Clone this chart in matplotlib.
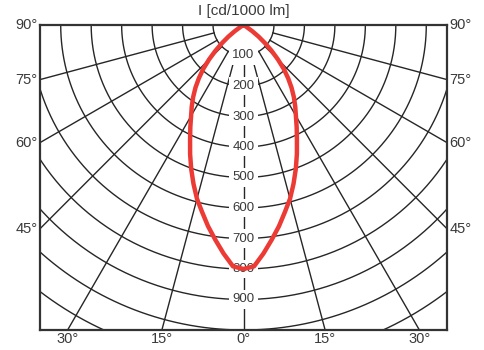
import matplotlib.pyplot as plt
import numpy as np

# light distribution (symmetric beam)
angles = [0, 2.5, 5, 7.5, 10, 12.5, 15, 17.5, 20, 22.5, 25, 27.5, 30, 32.5, 35,
          37.5, 40, 42.5, 45, 47.5, 50, 52.5, 55, 57.5, 60]
intensity = [800, 792, 752, 710, 670, 628, 590, 546, 502, 458, 415, 378, 344, 316, 288,
             259, 228, 196, 160, 125, 91, 62, 34, 12, 0]

rings = [100, 200, 300, 400, 500, 600, 700, 800, 900, 1000, 1100, 1200]
ring_labels = [100, 200, 300, 400, 500, 600, 700, 800, 900]
spokes = [-75, -60, -45, -30, -15, 0, 15, 30, 45, 60, 75]
side_labels = ["90°", "75°", "60°", "45°"]
side_angles = [90, 75, 60, 45]
bottom_labels = ["30°", "15°", "0°", "15°", "30°"]
bottom_angles = [-30, -15, 0, 15, 30]

XMAX = 668
YMIN = -1000
GRID = "#262626"
TXT = "#3a3a3a"

plt.rcParams['font.family'] = ['Liberation Sans', 'DejaVu Sans']

fig = plt.figure(figsize=(4.84, 3.5), dpi=100)
ax = fig.add_axes([40 / 484, 20 / 350, 407 / 484, 305 / 350])
ax.set_xlim(-XMAX, XMAX)
ax.set_ylim(YMIN, 0)
ax.set_xticks([])
ax.set_yticks([])
for s in ax.spines.values():
    s.set_linewidth(1.6)
    s.set_color("#333333")
    s.set_zorder(6)

# rings
t = np.radians(np.linspace(-90, 90, 400))
for r in rings:
    ax.plot(r * np.sin(t), -r * np.cos(t), color=GRID, lw=1.0, zorder=1)

# spokes, starting at the first ring
for a in spokes:
    th = np.radians(a)
    ax.plot([100 * np.sin(th), 2000 * np.sin(th)],
            [-100 * np.cos(th), -2000 * np.cos(th)], color=GRID, lw=1.0, zorder=1)

# intensity labels on the vertical axis
for v in ring_labels:
    ax.text(0, -v, str(v), ha="center", va="center", fontsize=9.5, color=TXT, zorder=3,
            bbox=dict(boxstyle="square,pad=0.25", fc="white", ec="none"))

# curve
th = np.radians(np.concatenate([-np.array(angles[::-1]), np.array(angles[1:])]))
I = np.concatenate([np.array(intensity[::-1]), np.array(intensity[1:])])
ax.plot(I * np.sin(th), -I * np.cos(th), color="#ec3a35", lw=3.2, zorder=4,
        solid_joinstyle="round", solid_capstyle="round")

# angle labels
for lab, a in zip(side_labels, side_angles):
    y = -XMAX / np.tan(np.radians(a)) if a != 90 else 0
    ax.text(-XMAX - 8, y, lab, ha="right", va="center", fontsize=10.5, color=TXT, clip_on=False)
    ax.text(XMAX + 8, y, lab, ha="left", va="center", fontsize=10.5, color=TXT, clip_on=False)
for lab, a in zip(bottom_labels, bottom_angles):
    ax.text(-YMIN * np.tan(np.radians(a)), YMIN - 8, lab, ha="center", va="top",
            fontsize=10.5, color=TXT, clip_on=False)

fig.text(244 / 484, 1 - 11 / 350, "I [cd/1000 lm]", ha="center", va="center",
         fontsize=11, color=TXT)

fig.savefig("out.png", dpi=100)
